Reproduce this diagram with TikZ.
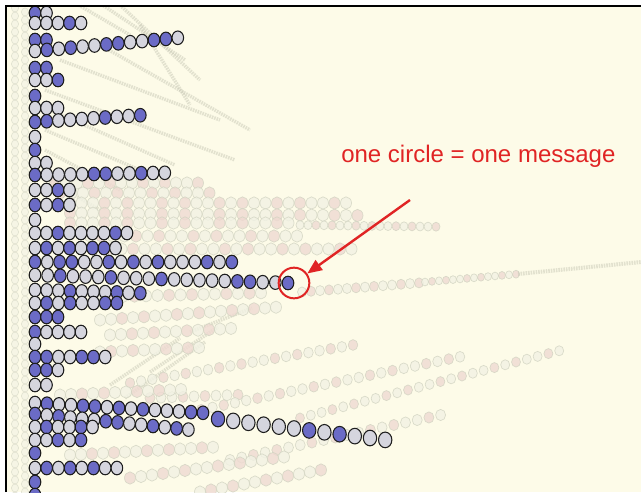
\documentclass[tikz,border=0pt]{standalone}
\usepackage{xcolor}
\usepackage{fontspec}
\setsansfont{Liberation Sans}
\usepackage{tikz}
\usetikzlibrary{arrows.meta, positioning}
\definecolor{paper}{HTML}{FDFBE8}
\definecolor{msgB}{HTML}{6B6BC6}
\definecolor{msgG}{HTML}{D5D5DE}
\definecolor{msgline}{HTML}{1E1E1E}
\definecolor{ghostP}{HTML}{EFDAD2}
\definecolor{ghostW}{HTML}{F2F2E4}
\definecolor{ghostline}{HTML}{D2D4C2}
\definecolor{streakgray}{HTML}{C8C8B6}
\definecolor{notered}{HTML}{E02424}
\tikzset{
    msgdot/.style={draw=msgline, line width=0.8pt},
    ghostdot/.style={draw=ghostline, line width=0.5pt, opacity=0.8},
    streak/.style={draw=streakgray, line width=2.6pt, dash pattern=on 1.2pt off 0.7pt, opacity=0.5},
    frame/.style={draw=black, line width=1.9pt},
    hlring/.style={circle, draw=notered, line width=1.5pt, minimum size=23pt, inner sep=0pt},
    notetext/.style={font=\sffamily\fontsize{18}{22}\selectfont, text=notered, inner sep=0pt},
    notearrow/.style={-{Triangle[length=11pt, width=9pt]}, line width=1.8pt, color=notered},
}
% one thread of messages: x, y, dx, dy, size, colours
\newcommand{\msgrow}[6]{%
    \foreach \col [count=\n from 0] in {#6}
        \path[msgdot, fill=msg\col] ({#1+\n*(#3)},{#2+\n*(#4)}) ellipse [x radius={5.8*#5}, y radius={6.8*#5}];
}
% faded thread: x, y, dx, dy, count, radius
\newcommand{\ghostrow}[6]{%
    \foreach \n in {1,...,#5}{%
        \pgfmathtruncatemacro{\tint}{mod(\n*7+#2,5)}%
        \ifnum\tint<2 \def\gst{P}\else\def\gst{W}\fi
        \path[ghostdot, fill=ghost\gst] ({#1+(\n-1)*(#3)},{#2+(\n-1)*(#4)}) ellipse [x radius=#6, y radius={#6*1.12}];
    }%
}

\begin{document}
\begin{tikzpicture}[x=0.75pt, y=-0.75pt]

    \useasboundingbox (0,0) rectangle (641,492);
    \fill[white] (0,0) rectangle (641,492);
    \fill[paper] (6,6) rectangle (641,492);

    \begin{scope}
    \clip (7,7) rectangle (641,492);

    % Background: faded columns on the left
    \foreach \yy in {8,16,...,496} {
        \path[ghostdot, opacity=0.6, fill=ghostW] (15,\yy) ellipse [x radius=3.6, y radius=4];
        \path[ghostdot, opacity=0.6, fill=ghostW] (25,\yy+4) ellipse [x radius=3.6, y radius=4];
    }

    % Background: compressed threads
    \foreach \xa/\ya/\xb/\yb in {70/0/130/35, 95/0/185/60, 120/5/200/80, 140/25/190/105,
        100/45/250/130, 60/60/220/120, 45/90/235/160, 50/110/175/165, 45/130/140/170,
        45/150/120/190, 40/175/100/210, 110/385/180/338, 125/398/205/342, 150/372/218/327,
        190/332/252/308}
        \draw[streak] (\xa,\ya) -- (\xb,\yb);

    % Background: faded threads, upper cluster
    \ghostrow{55}{183}{11}{0}{14}{5.5}
    \ghostrow{60}{193}{11.5}{0}{14}{5.5}
    \ghostrow{70}{203}{11.5}{0}{25}{5.5}
    \ghostrow{70}{213}{11.5}{0.1}{26}{5.5}
    \ghostrow{70}{223}{11.5}{0}{20}{5.5}
    \ghostrow{300}{225}{8}{0.1}{18}{4}
    \ghostrow{90}{236}{11.5}{0}{19}{5.5}
    \ghostrow{110}{249}{11.5}{0}{22}{5.5}

    % Background: long tail behind the marked message
    \ghostrow{100}{297}{11.5}{-0.3}{15}{5.5}
    \ghostrow{302}{292}{9}{-0.7}{14}{4.5}
    \ghostrow{425}{282}{7}{-0.6}{14}{3.5}
    \draw[streak, line width=3pt] (518,274) -- (641,262);

    % Background: faded threads, lower part
    \ghostrow{100}{320}{11}{-0.8}{17}{5.5}
    \ghostrow{110}{335}{11}{-0.6}{12}{5.5}
    \ghostrow{100}{352}{11}{-0.5}{10}{5.5}
    \ghostrow{130}{383}{11.15}{-1.9}{21}{4.8}
    \ghostrow{150}{398}{11}{-0.4}{9}{5}
    \ghostrow{190}{412}{11.25}{-2.3}{25}{4.8}
    \ghostrow{300}{418}{10.8}{-2.8}{25}{4.5}
    \ghostrow{230}{460}{11.7}{-2.5}{19}{5}
    \ghostrow{130}{478}{11}{-1.5}{15}{5.5}
    \ghostrow{200}{492}{11}{-2}{12}{5.5}
    \ghostrow{60}{395}{11}{-0.5}{12}{5.5}
    \ghostrow{70}{455}{11}{-0.6}{14}{5.5}

    % Foreground threads, top to bottom
    \msgrow{35}{13}{11.5}{0}{1}{B,G}
    \msgrow{35}{23}{11.5}{0}{1}{G,G,G,B,G}
    \msgrow{35}{40}{11.5}{0}{1}{B,B}
    \msgrow{35}{51}{11.9}{-1.1}{1}{G,B,G,B,G,G,B,B,G,G,B,B,G}
    \msgrow{35}{68}{11.5}{0}{1}{B,B}
    \msgrow{35}{80}{11.5}{0}{1}{G,G,B}
    \msgrow{35}{96}{11.5}{0}{1}{B}
    \msgrow{35}{108}{11.5}{0}{1}{G,G,G}
    \msgrow{35}{122}{11.7}{-0.75}{1}{B,B,G,G,G,G,B,G,G,B}
    \msgrow{35}{137}{11.5}{0}{1}{G}
    \msgrow{35}{150}{11.5}{0}{1}{B}
    \msgrow{35}{163}{11.5}{0}{1}{G,G}
    \msgrow{35}{175}{11.8}{-0.2}{1}{B,G,G,G,G,B,B,G,G,B,G,G}
    \msgrow{35}{190}{11.5}{0}{1}{G,G,B,G}
    \msgrow{35}{205}{11.5}{0}{1}{B,G,B,G}
    \msgrow{35}{220}{11.5}{0}{1}{G}
    \msgrow{35}{233}{11.5}{0}{1}{G,G,B,G,G,G,G,B,G}
    \msgrow{35}{248}{11.5}{0}{1}{G,B,G,B,G,B,B,G}
    \msgrow{35}{262}{12.3}{0}{1}{B,G,B,B,G,G,B,G,B,G,B,G,G,G,B,G,B}
    \msgrow{35}{275}{12.65}{0.4}{1}{G,G,B,G,G,G,B,G,G,G,B,G,G,G,G,G,B,B,G,G,B}
    \msgrow{35}{290}{11.7}{0.35}{1}{G,G,G,B,G,G,G,B,G,B}
    \msgrow{35}{303}{11.7}{0}{1}{G,B,G,B,G,G,B,B}
    \msgrow{35}{317}{11.5}{0}{1}{B,B,B}
    \msgrow{35}{332}{11.5}{0}{1}{B,G,G,G,G}
    \msgrow{35}{344}{11.5}{0}{1}{G}
    \msgrow{35}{357}{11.7}{0}{1}{B,B,G,G,B,B,G}
    \msgrow{35}{370}{11.5}{0}{1}{B,B,G}
    \msgrow{35}{385}{11.5}{0}{1}{G,G}
    \msgrow{35}{403}{12}{0.7}{1}{G,B,G,G,B,B,G,B,G,B,G,G,G,B,B}
    \msgrow{218}{419}{15.2}{1.9}{1.15}{B,G,G,G,G,G,B,G,B,G,G,G}
    \msgrow{35}{414}{11.8}{1.2}{1}{B,G,B,G,G,G,B,B,G,G,B,G,B,G}
    \msgrow{35}{427}{11.5}{0}{1}{G,B,G,G,B,G}
    \msgrow{35}{440}{11.5}{0}{1}{G,G,B,G,B}
    \msgrow{35}{453}{11.5}{0}{1}{B}
    \msgrow{35}{468}{11.7}{0}{1}{G,B,G,B,G,B,G,G}
    \msgrow{35}{482}{11.5}{0}{1}{B}
    \msgrow{35}{495}{11.5}{0}{1}{B}
    \end{scope}

    \draw[frame] (6,492) -- (6,6) -- (641,6);

    % Annotation
    \node[hlring] (hl) at (294,283) {};
    \node[notetext, anchor=base west] (note) at (341,162) {one circle = one message};
    \coordinate (tail) at (410,200);
    \draw[notearrow] (tail) -- (hl);

\end{tikzpicture}
\end{document}
